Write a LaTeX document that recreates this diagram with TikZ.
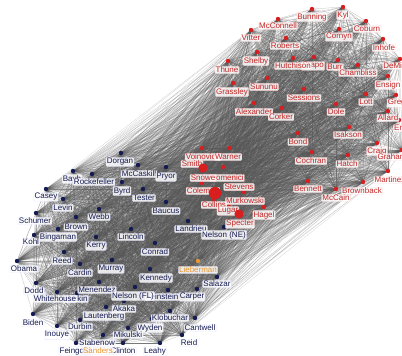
\documentclass[tikz,border=0pt]{standalone}
\usepackage{fontspec}
\newfontfamily\labelfont{Liberation Sans}
\usepackage{xcolor}
\usetikzlibrary{math}

\definecolor{repred}{HTML}{D81E1E}
\definecolor{reptext}{HTML}{C42626}
\definecolor{demnavy}{HTML}{141A52}
\definecolor{indorange}{HTML}{E8962E}

\tikzset{
  edge/.style={line width=0.25pt, draw=black!65, draw opacity=0.42},
  crossedge/.style={line width=0.25pt, draw=black!65, draw opacity=0.27},
  lbl/.style={font=\labelfont\fontsize{8}{8}\selectfont, fill=white, fill opacity=0.85, text opacity=1,
    draw opacity=0.7, rounded corners=1pt, inner sep=0.8pt, line width=0.3pt},
  replbl/.style={lbl, text=reptext, draw=red!20},
  demlbl/.style={lbl, draw=blue!12},
}

\def\repdata{Bunning/312/9/312/17/Bunning, Kyl/343/7/343/15/Kyl, McConnell/278/19/278/26/McConnell,
Coburn/366/21/367/29/Coburn, Vitter/251/30/251/38/Vitter, Cornyn/339/29/339/37/Cornyn,
Roberts/286/38/285/46/Roberts, Inhofe/383/39/384/48/Inhofe, Shelby/257/52/256/61/Shelby,
Thune/228/61/227/70/Thune, Crapo/314/57/313/66/Crapo, Hutchison/293/58/293/66/Hutchison,
Burr/338/60/335/67/Burr, Chambliss/358/65/358/73/Chambliss, DeMint/400/59/396/66/DeMint,
Ensign/388/76/388/85/Ensign, Sununu/267/78/264/87/Sununu, Grassley/233/83/232/92/Grassley,
Sessions/304/89/304/98/Sessions, Lott/366/94/366/102/Lott, Gregg/396/95/399/103/Gregg,
Allard/388/111/388/118/Allard, Enzi/399/120/402/128/Enzi, Alexander/254/103/254/112/Alexander,
Corker/282/108/281/117/Corker, Dole/336/104/336/112/Dole, Isakson/349/127/348/135/Isakson,
Bond/298/133/298/142/Bond, Craig/377/143/377/151/Craig, Graham/402/150/392/157/Graham,
Cochran/312/152/311/161/Cochran, Hatch/348/155/347/164/Hatch, Martinez/388/171/390/180/Martinez,
Bennett/308/181/308/189/Bennett, Brownback/363/182/362/191/Brownback, McCain/336/189/336/198/McCain,
Voinovich/202/148/203/157/Voinovich, Warner/229/148/228/157/Warner, Smith/203/168/192/164/Smith,
Domenici/223/167/227/178/Domenici, Snowe/202/183/203/178/Snowe, Stevens/236/178/239/187/Stevens,
Coleman/215/193/203/191/Coleman, Murkowski/244/192/245/201/Murkowski, Collins/214/199/214/205/Collins,
Lugar/229/204/228/211/Lugar, Hagel/264/207/264/215/Hagel, Specter/239/214/240/224/Specter}

\def\demdata{Dorgan/121/153/120/162/Dorgan/demnavy, McCaskill/138/165/139/174/McCaskill/demnavy,
Pryor/166/167/166/177/Pryor/demnavy, Bayh/73/171/72/179/Bayh/demnavy,
Rockefeller/92/174/94/182/Rockefeller/demnavy, Byrd/122/182/122/191/Byrd/demnavy,
Tester/143/189/144/198/Tester/demnavy, Casey/46/189/46/197/Casey/demnavy,
Levin/63/199/63/208/Levin/demnavy, Baucus/166/202/166/211/Baucus/demnavy,
Webb/99/209/99/217/Webb/demnavy, Schumer/36/213/35/221/Schumer/demnavy,
Brown/76/217/76/227/Brown/demnavy, Landrieu/188/221/191/229/Landrieu/demnavy,
NelsonNE/224/227/224/235/Nelson (NE)/demnavy, Kohl/34/235/31/242/Kohl/demnavy,
Bingaman/58/229/58/237/Bingaman/demnavy, Lincoln/131/229/131/237/Lincoln/demnavy,
Kerry/96/237/96/246/Kerry/demnavy, Conrad/155/243/155/252/Conrad/demnavy,
Reed/64/252/62/261/Reed/demnavy, Obama/17/261/24/269/Obama/demnavy,
Murray/112/260/111/269/Murray/demnavy, Cardin/80/264/80/273/Cardin/demnavy,
Kennedy/150/269/156/278/Kennedy/demnavy, Lieberman/198/261/198/270/Lieberman/indorange,
Menendez/99/282/97/290/Menendez/demnavy, Dodd/36/283/34/291/Dodd/demnavy,
Harkin/77/293/76/299/Harkin/demnavy, Whitehouse/57/292/55/299/Whitehouse/demnavy,
Feinstein/168/290/162/297/Feinstein/demnavy, NelsonFL/135/287/133/296/Nelson (FL)/demnavy,
Carper/197/289/192/297/Carper/demnavy, Salazar/217/277/217/284/Salazar/demnavy,
Akaka/124/301/124/309/Akaka/demnavy, Lautenberg/106/307/104/316/Lautenberg/demnavy,
Biden/33/314/33/323/Biden/demnavy, Durbin/80/320/80/327/Durbin/demnavy,
Klobuchar/170/311/170/318/Klobuchar/demnavy, Wyden/152/319/150/328/Wyden/demnavy,
Cantwell/195/318/200/328/Cantwell/demnavy, Inouye/57/326/57/335/Inouye/demnavy,
Mikulski/128/328/128/335/Mikulski/demnavy, Stabenow/103/335/97/343/Stabenow/demnavy,
Reid/182/335/189/343/Reid/demnavy, Feingold/76/343/75/351/Feingold/demnavy,
Clinton/123/343/123/351/Clinton/demnavy, Sanders/98/343/98/351/Sanders/indorange,
Leahy/160/343/155/351/Leahy/demnavy}

\begin{document}
\begin{tikzpicture}[x=1pt,y=-1pt]
\tikzmath{
\r=2.2;
\rbig=4.6;
\rhuge=6.2;
}
\useasboundingbox (0,0) rectangle (402,356);
\clip (0,0) rectangle (402,356);
\fill[white] (0,0) rectangle (402,356);

\foreach \n/\x/\y/\lx/\ly/\t in \repdata{
 \coordinate (\n) at (\x,\y);
}
\foreach \n/\x/\y/\lx/\ly/\t/\c in \demdata{
 \coordinate (\n) at (\x,\y);
}

\foreach \a/\ax/\ay/\alx/\aly/\at [count=\i] in \repdata{
 \foreach \b/\bx/\by/\blx/\bly/\bt [count=\j] in \repdata{
  \ifnum\j>\i \draw[edge] (\a) -- (\b); \fi
 }
}
\foreach \a/\ax/\ay/\alx/\aly/\at/\ac [count=\i] in \demdata{
 \foreach \b/\bx/\by/\blx/\bly/\bt/\bc [count=\j] in \demdata{
  \ifnum\j>\i \draw[edge] (\a) -- (\b); \fi
 }
}
\foreach \a/\ax/\ay/\alx/\aly/\at in \repdata{
 \foreach \b/\bx/\by/\blx/\bly/\bt/\bc in \demdata{
  \draw[crossedge] (\a) -- (\b);
 }
}

\foreach \n/\x/\y/\lx/\ly/\t in \repdata{
 \fill[repred] (\n) circle (\r);
}
\foreach \n/\x/\y/\lx/\ly/\t/\c in \demdata{
 \fill[\c] (\n) circle (\r);
}

\foreach \n/\x/\y/\lx/\ly/\t in \repdata{
 \node[replbl] (l\n) at (\lx,\ly) {\t};
}
\foreach \n/\x/\y/\lx/\ly/\t/\c in \demdata{
 \node[demlbl, text=\c] (l\n) at (\lx,\ly) {\t};
}

\fill[repred] (Smith) circle (\rbig);
\fill[repred] (Specter) circle (\rbig);
\fill[repred] (Coleman) circle (\rhuge);
\end{tikzpicture}
\end{document}
